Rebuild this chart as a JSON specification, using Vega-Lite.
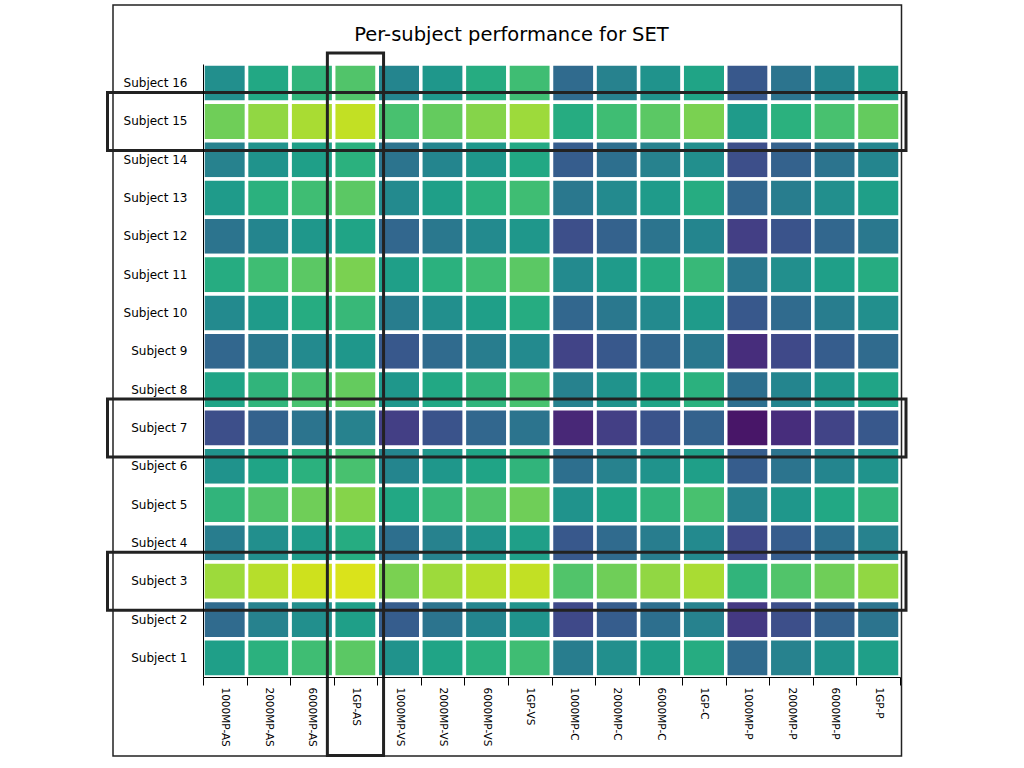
{
  "$schema": "https://vega.github.io/schema/vega-lite/v6.json",
  "width": 697,
  "height": 613,
  "autosize": "none",
  "padding": {"left": 203, "top": 64, "right": 124, "bottom": 91},
  "background": "white",
  "title": {
    "text": "Per-subject performance for SET",
    "font": "DejaVu Sans",
    "fontSize": 19.5,
    "fontWeight": "normal",
    "color": "#000",
    "anchor": "middle",
    "frame": "group",
    "dx": -40,
    "baseline": "alphabetic",
    "offset": -56
  },
  "config": {
    "view": {"stroke": null},
    "axis": {"labelFont": "DejaVu Sans", "labelColor": "#000", "domainColor": "#000", "tickColor": "#000", "title": null, "grid": false}
  },
  "datasets": {
    "scores": [
      {"s": "Subject 16", "1000MP-AS": 0.72, "2000MP-AS": 0.78, "6000MP-AS": 0.81, "1GP-AS": 0.85, "1000MP-VS": 0.70, "2000MP-VS": 0.74, "6000MP-VS": 0.79, "1GP-VS": 0.83, "1000MP-C": 0.64, "2000MP-C": 0.69, "6000MP-C": 0.73, "1GP-C": 0.77, "1000MP-P": 0.60, "2000MP-P": 0.66, "6000MP-P": 0.70, "1GP-P": 0.75},
      {"s": "Subject 15", "1000MP-AS": 0.88, "2000MP-AS": 0.91, "6000MP-AS": 0.93, "1GP-AS": 0.95, "1000MP-VS": 0.84, "2000MP-VS": 0.87, "6000MP-VS": 0.90, "1GP-VS": 0.92, "1000MP-C": 0.79, "2000MP-C": 0.83, "6000MP-C": 0.86, "1GP-C": 0.89, "1000MP-P": 0.75, "2000MP-P": 0.80, "6000MP-P": 0.84, "1GP-P": 0.87},
      {"s": "Subject 14", "1000MP-AS": 0.69, "2000MP-AS": 0.73, "6000MP-AS": 0.76, "1GP-AS": 0.80, "1000MP-VS": 0.66, "2000MP-VS": 0.70, "6000MP-VS": 0.74, "1GP-VS": 0.78, "1000MP-C": 0.61, "2000MP-C": 0.65, "6000MP-C": 0.69, "1GP-C": 0.72, "1000MP-P": 0.58, "2000MP-P": 0.62, "6000MP-P": 0.66, "1GP-P": 0.70},
      {"s": "Subject 13", "1000MP-AS": 0.75, "2000MP-AS": 0.80, "6000MP-AS": 0.83, "1GP-AS": 0.86, "1000MP-VS": 0.71, "2000MP-VS": 0.76, "6000MP-VS": 0.80, "1GP-VS": 0.83, "1000MP-C": 0.67, "2000MP-C": 0.71, "6000MP-C": 0.75, "1GP-C": 0.79, "1000MP-P": 0.63, "2000MP-P": 0.68, "6000MP-P": 0.72, "1GP-P": 0.76},
      {"s": "Subject 12", "1000MP-AS": 0.66, "2000MP-AS": 0.70, "6000MP-AS": 0.74, "1GP-AS": 0.77, "1000MP-VS": 0.63, "2000MP-VS": 0.67, "6000MP-VS": 0.71, "1GP-VS": 0.74, "1000MP-C": 0.58, "2000MP-C": 0.62, "6000MP-C": 0.66, "1GP-C": 0.70, "1000MP-P": 0.55, "2000MP-P": 0.59, "6000MP-P": 0.63, "1GP-P": 0.67},
      {"s": "Subject 11", "1000MP-AS": 0.79, "2000MP-AS": 0.83, "6000MP-AS": 0.86, "1GP-AS": 0.89, "1000MP-VS": 0.76, "2000MP-VS": 0.80, "6000MP-VS": 0.83, "1GP-VS": 0.86, "1000MP-C": 0.71, "2000MP-C": 0.75, "6000MP-C": 0.79, "1GP-C": 0.82, "1000MP-P": 0.67, "2000MP-P": 0.72, "6000MP-P": 0.76, "1GP-P": 0.79},
      {"s": "Subject 10", "1000MP-AS": 0.71, "2000MP-AS": 0.75, "6000MP-AS": 0.79, "1GP-AS": 0.82, "1000MP-VS": 0.68, "2000MP-VS": 0.72, "6000MP-VS": 0.76, "1GP-VS": 0.79, "1000MP-C": 0.63, "2000MP-C": 0.67, "6000MP-C": 0.71, "1GP-C": 0.75, "1000MP-P": 0.60, "2000MP-P": 0.64, "6000MP-P": 0.68, "1GP-P": 0.72},
      {"s": "Subject 9", "1000MP-AS": 0.63, "2000MP-AS": 0.67, "6000MP-AS": 0.71, "1GP-AS": 0.74, "1000MP-VS": 0.60, "2000MP-VS": 0.64, "6000MP-VS": 0.68, "1GP-VS": 0.71, "1000MP-C": 0.56, "2000MP-C": 0.60, "6000MP-C": 0.63, "1GP-C": 0.67, "1000MP-P": 0.52, "2000MP-P": 0.57, "6000MP-P": 0.61, "1GP-P": 0.64},
      {"s": "Subject 8", "1000MP-AS": 0.77, "2000MP-AS": 0.81, "6000MP-AS": 0.84, "1GP-AS": 0.87, "1000MP-VS": 0.74, "2000MP-VS": 0.78, "6000MP-VS": 0.81, "1GP-VS": 0.84, "1000MP-C": 0.69, "2000MP-C": 0.73, "6000MP-C": 0.77, "1GP-C": 0.80, "1000MP-P": 0.65, "2000MP-P": 0.70, "6000MP-P": 0.74, "1GP-P": 0.77},
      {"s": "Subject 7", "1000MP-AS": 0.58, "2000MP-AS": 0.62, "6000MP-AS": 0.66, "1GP-AS": 0.69, "1000MP-VS": 0.55, "2000MP-VS": 0.59, "6000MP-VS": 0.63, "1GP-VS": 0.66, "1000MP-C": 0.51, "2000MP-C": 0.55, "6000MP-C": 0.59, "1GP-C": 0.62, "1000MP-P": 0.48, "2000MP-P": 0.52, "6000MP-P": 0.56, "1GP-P": 0.60},
      {"s": "Subject 6", "1000MP-AS": 0.73, "2000MP-AS": 0.77, "6000MP-AS": 0.80, "1GP-AS": 0.84, "1000MP-VS": 0.70, "2000MP-VS": 0.74, "6000MP-VS": 0.77, "1GP-VS": 0.81, "1000MP-C": 0.65, "2000MP-C": 0.69, "6000MP-C": 0.73, "1GP-C": 0.76, "1000MP-P": 0.61, "2000MP-P": 0.66, "6000MP-P": 0.70, "1GP-P": 0.73},
      {"s": "Subject 5", "1000MP-AS": 0.81, "2000MP-AS": 0.85, "6000MP-AS": 0.88, "1GP-AS": 0.90, "1000MP-VS": 0.78, "2000MP-VS": 0.82, "6000MP-VS": 0.85, "1GP-VS": 0.88, "1000MP-C": 0.73, "2000MP-C": 0.77, "6000MP-C": 0.81, "1GP-C": 0.84, "1000MP-P": 0.69, "2000MP-P": 0.74, "6000MP-P": 0.78, "1GP-P": 0.81},
      {"s": "Subject 4", "1000MP-AS": 0.68, "2000MP-AS": 0.72, "6000MP-AS": 0.75, "1GP-AS": 0.79, "1000MP-VS": 0.65, "2000MP-VS": 0.69, "6000MP-VS": 0.73, "1GP-VS": 0.76, "1000MP-C": 0.60, "2000MP-C": 0.64, "6000MP-C": 0.68, "1GP-C": 0.71, "1000MP-P": 0.57, "2000MP-P": 0.61, "6000MP-P": 0.65, "1GP-P": 0.69},
      {"s": "Subject 3", "1000MP-AS": 0.92, "2000MP-AS": 0.94, "6000MP-AS": 0.96, "1GP-AS": 0.97, "1000MP-VS": 0.89, "2000MP-VS": 0.92, "6000MP-VS": 0.94, "1GP-VS": 0.95, "1000MP-C": 0.85, "2000MP-C": 0.88, "6000MP-C": 0.91, "1GP-C": 0.93, "1000MP-P": 0.81, "2000MP-P": 0.85, "6000MP-P": 0.88, "1GP-P": 0.91},
      {"s": "Subject 2", "1000MP-AS": 0.64, "2000MP-AS": 0.69, "6000MP-AS": 0.72, "1GP-AS": 0.76, "1000MP-VS": 0.61, "2000MP-VS": 0.66, "6000MP-VS": 0.70, "1GP-VS": 0.73, "1000MP-C": 0.57, "2000MP-C": 0.61, "6000MP-C": 0.65, "1GP-C": 0.69, "1000MP-P": 0.54, "2000MP-P": 0.58, "6000MP-P": 0.62, "1GP-P": 0.66},
      {"s": "Subject 1", "1000MP-AS": 0.76, "2000MP-AS": 0.80, "6000MP-AS": 0.83, "1GP-AS": 0.86, "1000MP-VS": 0.73, "2000MP-VS": 0.77, "6000MP-VS": 0.80, "1GP-VS": 0.83, "1000MP-C": 0.68, "2000MP-C": 0.72, "6000MP-C": 0.76, "1GP-C": 0.79, "1000MP-P": 0.64, "2000MP-P": 0.69, "6000MP-P": 0.73, "1GP-P": 0.76}
    ],
    "rowhl": [{"s": "Subject 15"}, {"s": "Subject 7"}, {"s": "Subject 3"}],
    "colhl": [{"cond": "1GP-AS"}],
    "frame": [{"item": "frame"}]
  },
  "layer": [
    {
      "data": {"name": "scores"},
      "transform": [
        {"fold": ["1000MP-AS", "2000MP-AS", "6000MP-AS", "1GP-AS", "1000MP-VS", "2000MP-VS", "6000MP-VS", "1GP-VS", "1000MP-C", "2000MP-C", "6000MP-C", "1GP-C", "1000MP-P", "2000MP-P", "6000MP-P", "1GP-P"], "as": ["cond", "score"]}
      ],
      "mark": {"type": "rect", "stroke": "white", "strokeWidth": 3.5},
      "encoding": {
        "x": {
          "field": "cond", "type": "nominal",
          "sort": ["1000MP-AS", "2000MP-AS", "6000MP-AS", "1GP-AS", "1000MP-VS", "2000MP-VS", "6000MP-VS", "1GP-VS", "1000MP-C", "2000MP-C", "6000MP-C", "1GP-C", "1000MP-P", "2000MP-P", "6000MP-P", "1GP-P"],
          "axis": {"orient": "bottom", "labelAngle": 90, "labelAlign": "left", "labelBaseline": "middle", "labelFontSize": 10.5, "tickBand": "extent", "tickSize": 8, "labelPadding": 2}
        },
        "y": {
          "field": "s", "type": "nominal",
          "sort": ["Subject 16", "Subject 15", "Subject 14", "Subject 13", "Subject 12", "Subject 11", "Subject 10", "Subject 9", "Subject 8", "Subject 7", "Subject 6", "Subject 5", "Subject 4", "Subject 3", "Subject 2", "Subject 1"],
          "axis": {"ticks": false, "labelPadding": 16, "labelFontSize": 12}
        },
        "color": {"field": "score", "type": "quantitative", "scale": {"scheme": "viridis", "domain": [0.45, 1]}, "legend": null}
      }
    },
    {
      "data": {"name": "rowhl"},
      "mark": {"type": "rect", "fill": "transparent", "stroke": "#222", "strokeWidth": 3, "height": {"band": 1.51}, "xOffset": -95.5, "x2Offset": 6},
      "encoding": {
        "x": {"value": 0},
        "x2": {"value": {"expr": "width"}},
        "y": {
          "field": "s", "type": "nominal",
          "sort": ["Subject 16", "Subject 15", "Subject 14", "Subject 13", "Subject 12", "Subject 11", "Subject 10", "Subject 9", "Subject 8", "Subject 7", "Subject 6", "Subject 5", "Subject 4", "Subject 3", "Subject 2", "Subject 1"]
        }
      }
    },
    {
      "data": {"name": "colhl"},
      "mark": {"type": "rect", "fill": "transparent", "stroke": "#222", "strokeWidth": 3, "width": {"band": 1.29}, "yOffset": -11, "y2Offset": 78.5},
      "encoding": {
        "y": {"value": 0},
        "y2": {"value": {"expr": "height"}},
        "x": {
          "field": "cond", "type": "nominal",
          "sort": ["1000MP-AS", "2000MP-AS", "6000MP-AS", "1GP-AS", "1000MP-VS", "2000MP-VS", "6000MP-VS", "1GP-VS", "1000MP-C", "2000MP-C", "6000MP-C", "1GP-C", "1000MP-P", "2000MP-P", "6000MP-P", "1GP-P"]
        }
      }
    },
    {
      "data": {"name": "frame"},
      "mark": {"type": "rect", "fill": "transparent", "stroke": "#222", "strokeWidth": 1.5, "xOffset": -90, "x2Offset": 1.5, "yOffset": -59, "y2Offset": 79},
      "encoding": {
        "x": {"value": 0},
        "x2": {"value": {"expr": "width"}},
        "y": {"value": 0},
        "y2": {"value": {"expr": "height"}}
      }
    }
  ]
}
